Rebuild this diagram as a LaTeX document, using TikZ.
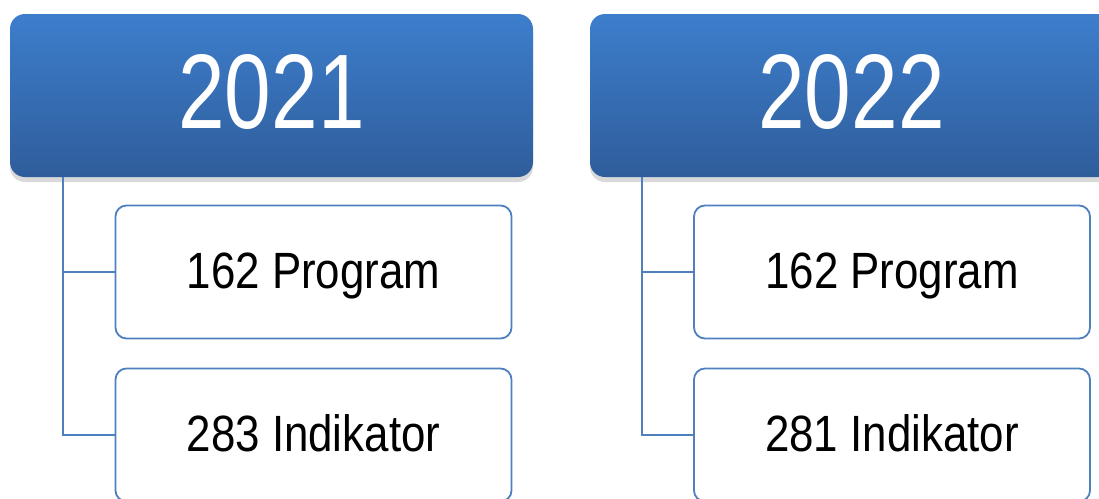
\documentclass[tikz,border=0pt]{standalone}
\usepackage{fontspec}
\usepackage{graphicx}
\setmainfont{Liberation Sans}
\usetikzlibrary{shadows}

\definecolor{hdtop}{HTML}{3D7ECC}
\definecolor{hdbot}{HTML}{2F5D9B}
\definecolor{edgeblue}{HTML}{4F80BE}

\newcommand{\narrow}[2][0.86]{\scalebox{#1}[1]{#2}}

\tikzset{
  yearbox/.style={rounded corners=15pt, top color=hdtop, bottom color=hdbot,
    minimum width=523pt, minimum height=163pt, inner sep=0pt, text=white,
    text depth=9pt, font=\fontsize{106}{106}\selectfont,
    drop shadow={shadow xshift=0pt, shadow yshift=-5pt, opacity=0.3}},
  itembox/.style={draw=edgeblue, line width=1.8pt, rounded corners=11pt, fill=white,
    minimum width=396pt, minimum height=133pt, inner sep=0pt,
    text depth=3pt, font=\fontsize{51}{51}\selectfont},
  link/.style={draw=edgeblue, line width=1.8pt}
}

\begin{document}
\begin{tikzpicture}[x=1pt,y=-1pt]
  \useasboundingbox (0,0) rectangle (1099,498);
  \clip (0,0) rectangle (1099,498);

  % first year
  \node[yearbox] (y1) at (271.5,95.5) {\narrow[0.79]{2021}};
  \node[itembox] (p1) at (313.5,272) {\narrow{162 Program}};
  \node[itembox] (i1) at (313.5,435) {\narrow{283 Indikator}};
  \draw[link] ([xshift=53pt]y1.south west) |- (p1.west);
  \draw[link] ([xshift=53pt]y1.south west) |- (i1.west);

  % second year
  \node[yearbox] (y2) at (851.5,95.5) {\narrow[0.79]{2022}};
  \node[itembox] (p2) at (892,272) {\narrow{162 Program}};
  \node[itembox] (i2) at (892,435) {\narrow{281 Indikator}};
  \draw[link] ([xshift=52pt]y2.south west) |- (p2.west);
  \draw[link] ([xshift=52pt]y2.south west) |- (i2.west);
\end{tikzpicture}
\end{document}
